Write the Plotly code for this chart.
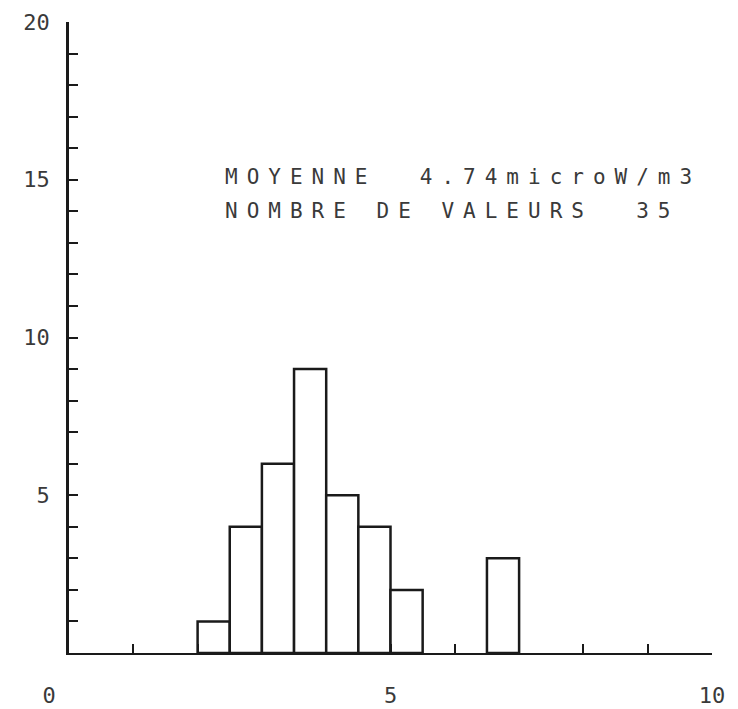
import plotly.graph_objects as go

# histogramme des valeurs (classes de 0.5)
bin_starts = [2.0, 2.5, 3.0, 3.5, 4.0, 4.5, 5.0, 6.5]
counts = [1, 4, 6, 9, 5, 4, 2, 3]
bin_width = 0.5

x_ticks = list(range(0, 11))
x_labels = ["0\u00a0\u00a0\u00a0", "", "", "", "", "5", "", "", "", "", "10"]
y_ticks = list(range(0, 21))
y_labels = ["" if v % 5 or v == 0 else str(v) for v in y_ticks]

line1 = "MOYENNE\u00a0\u00a04.74microW/m3"
line2 = "NOMBRE\u00a0DE\u00a0VALEURS\u00a0\u00a035"

centers = [s + bin_width / 2 for s in bin_starts]

ink = "#1a1a1a"
mono = "DejaVu Sans Mono"

fig = go.Figure()
fig.add_trace(go.Bar(
    x=centers, y=counts, width=bin_width,
    marker=dict(color="white", line=dict(color=ink, width=2.5)),
    hoverinfo="skip",
))

for y, txt in [(15.1, line1), (14.0, line2)]:
    fig.add_annotation(
        x=2.40, y=y, xref="x", yref="y", xanchor="left", yanchor="middle",
        text='<span style="letter-spacing:9px">' + txt + "</span>",
        showarrow=False, font=dict(family=mono, size=21, color="#3a3a3a"),
    )

# la page ajoute une marge de 8 px : figure un peu plus petite que la fenetre
fig.update_layout(
    width=730, height=701,
    margin=dict(l=61, r=26, t=14, b=56, autoexpand=False),
    plot_bgcolor="white", paper_bgcolor="white",
    showlegend=False,
    font=dict(family=mono, size=22, color="#3a3a3a"),
)
fig.update_xaxes(
    range=[0, 10], tickvals=x_ticks, ticktext=x_labels,
    ticks="inside", ticklen=9, tickwidth=2, tickcolor=ink,
    showline=True, linecolor=ink, linewidth=2,
    showgrid=False, zeroline=False, ticklabelstandoff=22,
    automargin=False,
)
fig.update_yaxes(
    range=[0, 20], tickvals=y_ticks, ticktext=y_labels,
    ticks="inside", ticklen=9, tickwidth=2, tickcolor=ink,
    showline=True, linecolor=ink, linewidth=2.5,
    showgrid=False, zeroline=False, ticklabelstandoff=12,
    automargin=False,
)

fig.write_html("out.html")
